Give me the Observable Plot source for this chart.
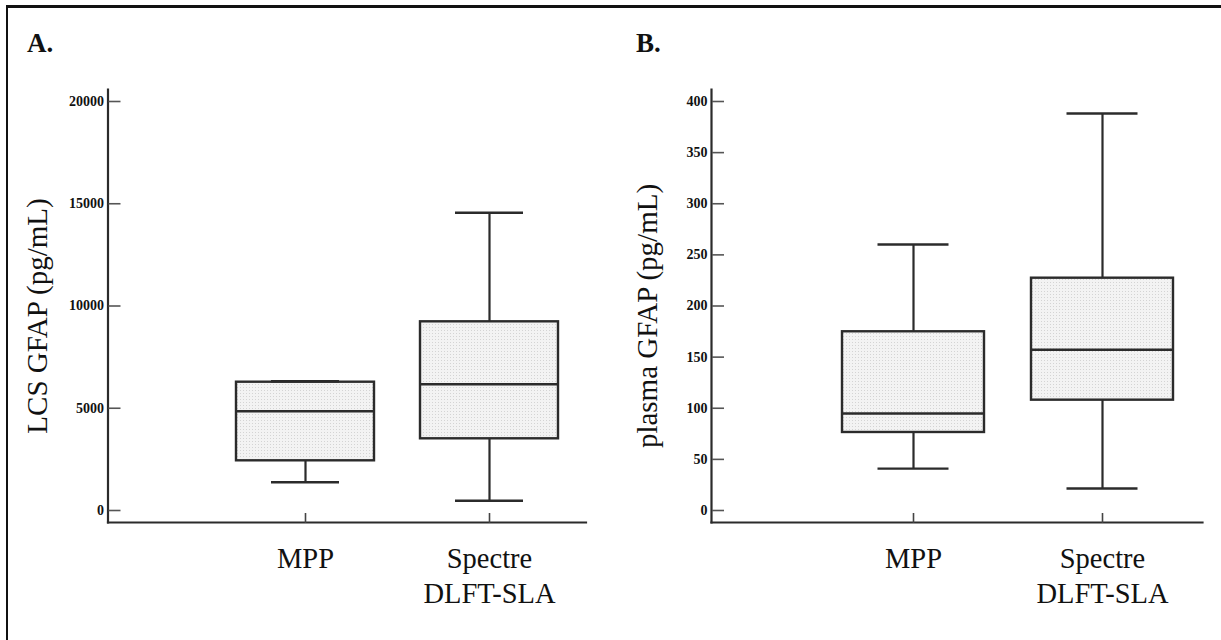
<!DOCTYPE html>
<html>
<head>
<meta charset="utf-8">
<script src="https://cdn.jsdelivr.net/npm/d3@7"></script>
<script src="https://cdn.jsdelivr.net/npm/@observablehq/plot@0.6"></script>
<style>
  html, body { margin: 0; padding: 0; background: #fff; }
  #page { position: relative; width: 1221px; height: 640px; overflow: hidden; background: #fff; font-family: "Liberation Serif", "Times New Roman", serif; }
  #border { position: absolute; left: 5.5px; top: 5px; right: -10px; bottom: -10px; border-top: 3px solid #111; border-left: 2.7px solid #111; }
  .panel-letter { position: absolute; font-weight: bold; font-size: 27px; line-height: 1; color: #111; }
  .panel { position: absolute; top: 0; }
</style>
</head>
<body>
<div id="page">
  <svg width="0" height="0" style="position:absolute">
    <defs>
      <pattern id="stip" width="3" height="3" patternUnits="userSpaceOnUse">
        <rect width="3" height="3" fill="#f3f3f3"></rect>
        <rect width="1" height="1" fill="#d4d4d4"></rect>
      </pattern>
    </defs>
  </svg>
  <div id="border"></div>
  <div class="panel-letter" style="left:27px; top:30px;">A.</div>
  <div class="panel-letter" style="left:636px; top:30px;">B.</div>
  <div id="panelA" class="panel" style="left:0px;"></div>
  <div id="panelB" class="panel" style="left:600px;"></div>
</div>
<script>
// ---- data ----
const groups = ["MPP", "Spectre\nDLFT-SLA"];

const lcsMin    = [1384, 474];
const lcsQ1     = [2430, 3506];
const lcsMedian = [4856, 6176];
const lcsQ3     = [6274, 9227];
const lcsMax    = [6323, 14557];
const lcsTicks  = [0, 5000, 10000, 15000, 20000];
const lcsLabel  = "LCS GFAP (pg/mL)";

const plasmaMin    = [41, 21.5];
const plasmaQ1     = [76.3, 107.9];
const plasmaMedian = [94.9, 157.2];
const plasmaQ3     = [174.8, 227.2];
const plasmaMax    = [260.1, 388.3];
const plasmaTicks  = [0, 50, 100, 150, 200, 250, 300, 350, 400];
const plasmaLabel  = "plasma GFAP (pg/mL)";

const serif = "Liberation Serif";
const dark = "#2b2b2b";

function table(mins, q1s, meds, q3s, maxs) {
  return groups.map((g, i) => ({group: g, min: mins[i], q1: q1s[i], median: meds[i], q3: q3s[i], max: maxs[i]}));
}

function boxPanel({data, ticks, yDomain, label, width, marginLeft, marginRight, xRange, capInset, titleDx}) {
  return Plot.plot({
    width,
    height: 640,
    marginTop: 89,
    marginBottom: 118,
    marginLeft,
    marginRight,
    style: {fontFamily: serif, color: "#222", background: "transparent", overflow: "visible"},
    x: {domain: groups, range: xRange, paddingInner: 0.25, paddingOuter: 0.125, align: 0.5, axis: null},
    y: {domain: yDomain, range: [510, 101], axis: null},
    marks: [
      Plot.frame({anchor: "left", stroke: "#2b2b2b", strokeWidth: 2.2}),
      Plot.frame({anchor: "bottom", stroke: "#2b2b2b", strokeWidth: 2.2}),
      // inward y ticks
      Plot.axisY(ticks, {anchor: "right", frameAnchor: "left", tickSize: 12, fill: "none", label: null, stroke: "#555", strokeWidth: 1.6}),
      // y tick labels
      Plot.text(ticks, {y: d => d, text: d => String(d), frameAnchor: "left", textAnchor: "end", dx: -4, fontSize: 14, fontWeight: "bold", fontFamily: serif, fill: "#111"}),
      // inward x ticks
      Plot.axisX({anchor: "top", frameAnchor: "bottom", tickSize: 10, fill: "none", label: null, stroke: "#444", strokeWidth: 1.6}),
      // x labels
      Plot.text(groups, {x: d => d, frameAnchor: "bottom", lineAnchor: "top", dy: 20, fontSize: 28.5, lineHeight: 1.24, fontFamily: serif, fill: "#111"}),
      // y title
      Plot.text([label], {frameAnchor: "left", textAnchor: "middle", lineAnchor: "middle", rotate: -90, dx: titleDx, dy: 10, fontSize: 29, fontFamily: serif, fill: "#111"}),
      // whiskers
      Plot.ruleX(data, {x: "group", y1: "min", y2: "max", stroke: dark, strokeWidth: 2.2}),
      Plot.barY(data, {x: "group", y1: "q1", y2: "q3", fill: "url(#stip)", stroke: dark, strokeWidth: 2.4}),
      Plot.tickY(data, {x: "group", y: "median", stroke: dark, strokeWidth: 2.4}),
      Plot.tickY(data, {x: "group", y: "min", stroke: dark, strokeWidth: 2.4, insetLeft: capInset, insetRight: capInset}),
      Plot.tickY(data, {x: "group", y: "max", stroke: dark, strokeWidth: 2.4, insetLeft: capInset, insetRight: capInset})
    ]
  });
}

const lcsData = table(lcsMin, lcsQ1, lcsMedian, lcsQ3, lcsMax);
const plasmaData = table(plasmaMin, plasmaQ1, plasmaMedian, plasmaQ3, plasmaMax);

document.getElementById("panelA").appendChild(boxPanel({
  data: lcsData, ticks: lcsTicks, yDomain: [0, 20000], label: lcsLabel,
  width: 610, marginLeft: 107.5, marginRight: 24.5,
  xRange: [213.3, 581.4], capInset: 35, titleDx: -70.5
}));

document.getElementById("panelB").appendChild(boxPanel({
  data: plasmaData, ticks: plasmaTicks, yDomain: [0, 400], label: plasmaLabel,
  width: 621, marginLeft: 111, marginRight: 19,
  xRange: [217.6, 596.8], capInset: 35.5, titleDx: -63.5
}));
</script>
</body>
</html>
